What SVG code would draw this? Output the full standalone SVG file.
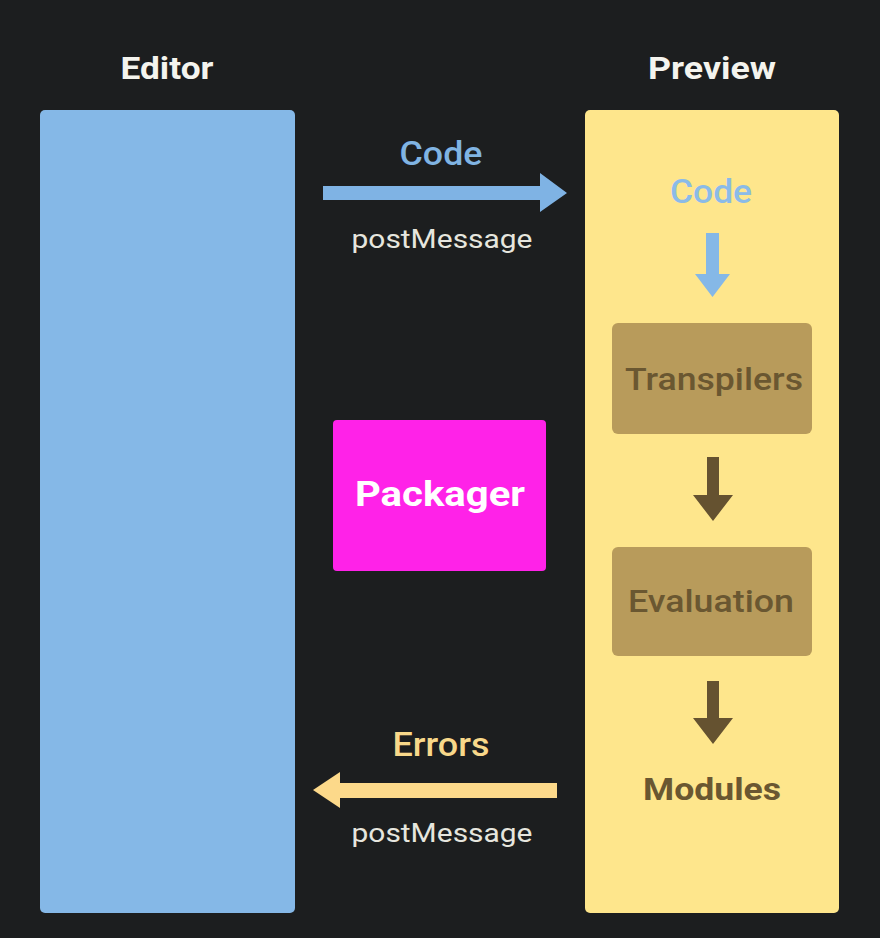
<svg xmlns="http://www.w3.org/2000/svg" width="880" height="938" viewBox="0 0 880 938">
<style>
text{font-family:Roboto,"Liberation Sans",sans-serif;text-anchor:middle}
.title{font-size:32px;font-weight:700;fill:#f4f4ee}
.lbl{font-size:33px;font-weight:500}
.pm{font-size:25px;font-weight:400;fill:#e6e6de}
.step{fill:#b89b5b}
.steptxt{font-size:32px;font-weight:500;fill:#6a5731}
</style>
<rect width="880" height="938" fill="#1c1e1f"/>
<g id="editor">
<rect x="40" y="110" width="255" height="803" rx="5" fill="#85b8e7"/>
<text class="title" x="167" y="79" textLength="93" lengthAdjust="spacingAndGlyphs">Editor</text>
</g>
<g id="preview">
<rect x="585" y="110" width="254" height="803" rx="5" fill="#fee68c"/>
<text class="title" x="712" y="79" textLength="128" lengthAdjust="spacingAndGlyphs">Preview</text>
<text class="lbl" x="711" y="203" fill="#8bbbe8" textLength="82" lengthAdjust="spacingAndGlyphs">Code</text>
</g>
<g id="transpilers">
<rect class="step" x="612" y="323" width="200" height="111" rx="6"/>
<text class="steptxt" x="714" y="390" textLength="178" lengthAdjust="spacingAndGlyphs">Transpilers</text>
</g>
<g id="evaluation">
<rect class="step" x="612" y="547" width="200" height="109" rx="6"/>
<text class="steptxt" x="711" y="612" textLength="166" lengthAdjust="spacingAndGlyphs">Evaluation</text>
</g>
<g id="modules">
<text x="712" y="800" font-size="32" font-weight="700" fill="#6a5731" textLength="138" lengthAdjust="spacingAndGlyphs">Modules</text>
</g>
<g id="packager">
<rect x="333" y="420" width="213" height="151" rx="4" fill="#ff22e8"/>
<text x="440" y="506" font-size="35" font-weight="700" fill="#ffffff" textLength="170" lengthAdjust="spacingAndGlyphs">Packager</text>
</g>
<g id="connectors">
<path d="M323 186H540V173L567 193 540 212V200H323Z" fill="#7fb3e4"/>
<text class="lbl" x="441" y="165" fill="#80b4e3" textLength="83" lengthAdjust="spacingAndGlyphs">Code</text>
<text class="pm" x="442" y="248" textLength="181" lengthAdjust="spacingAndGlyphs">postMessage</text>
<path d="M557 783H340V772L313 790 340 808V798H557Z" fill="#fcd98a"/>
<text class="lbl" x="441" y="756" fill="#f8d88a" font-weight="700" textLength="97" lengthAdjust="spacingAndGlyphs">Errors</text>
<text class="pm" x="442" y="842" textLength="181" lengthAdjust="spacingAndGlyphs">postMessage</text>
<path d="M706 233H719V274H730L712.5 297 695 274H706Z" fill="#85b8e7"/>
<path d="M707 457H719V495H733L713 521 693 495H707Z" fill="#655230"/>
<path d="M707 681H719V718H733L713 744 693 718H707Z" fill="#655230"/>
</g>
</svg>
